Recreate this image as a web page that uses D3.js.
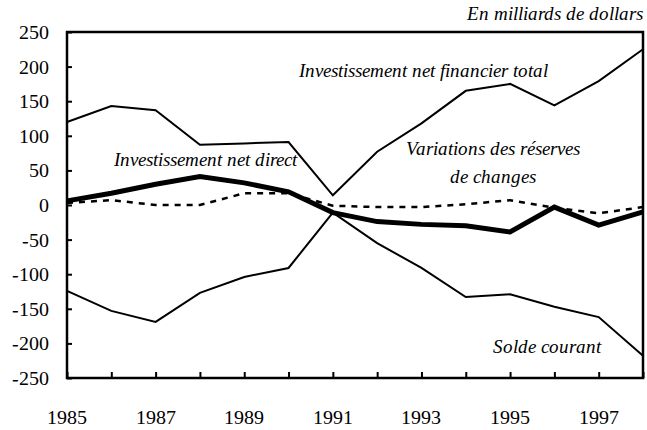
<!DOCTYPE html>
<html>
<head>
<meta charset="utf-8">
<script src="https://cdn.jsdelivr.net/npm/d3@7"></script>
<style>
  @font-face { font-family: "ChartSerif"; font-style: normal; src: local("Liberation Serif"), local("LiberationSerif"), local("LiberationSerif-Regular"); }
  @font-face { font-family: "ChartSerif"; font-style: italic; src: local("Liberation Serif Italic"), local("LiberationSerif-Italic"); }
  body { margin: 0; }
  #chart text { font-family: "ChartSerif", "Liberation Serif", serif; }
</style>
</head>
<body>
<svg id="chart" width="647" height="430"></svg>
<script>
const years = [1985,1986,1987,1988,1989,1990,1991,1992,1993,1994,1995,1996,1997,1998];
const totalFinancier = [120,143,137,87,89,91,14,77,118,165,175,144,179,225];
const soldeCourant = [-124,-153,-169,-127,-104,-91,-11,-55,-91,-133,-129,-147,-162,-218];
const directNet = [6,17,30,41,32,19,-11,-24,-28,-30,-39,-3,-29,-10];
const reserves = [3,7,0,0,17,17,-1,-3,-3,1,7,-4,-12,-3];
const yTicks = [250,200,150,100,50,0,-50,-100,-150,-200,-250];
const xLabelYears = [1985,1987,1989,1991,1993,1995,1997];

const svg = d3.select("#chart");
const m = {left: 67, right: 643, top: 32, bottom: 378};

const x = d3.scaleLinear().domain([1985, 1998]).range([m.left, m.right]);
const y = d3.scaleLinear().domain([-250, 250]).range([m.bottom, m.top]);

// y axis inward ticks
svg.append("g").attr("transform", `translate(${m.left},0)`)
  .call(d3.axisRight(y).tickValues(yTicks).tickSize(5).tickFormat(""))
  .call(g => g.select(".domain").remove())
  .call(g => g.selectAll("line").attr("stroke", "#000").attr("stroke-width", 2));

// x axis inward ticks
svg.append("g").attr("transform", `translate(0,${m.bottom})`)
  .call(d3.axisTop(x).tickValues(years).tickSize(6).tickFormat(""))
  .call(g => g.select(".domain").remove())
  .call(g => g.selectAll("line").attr("stroke", "#000").attr("stroke-width", 2));

// frame
svg.append("rect").attr("x", m.left).attr("y", m.top)
  .attr("width", m.right - m.left).attr("height", m.bottom - m.top)
  .attr("fill", "none").attr("stroke", "#000").attr("stroke-width", 2.5);

const line = d3.line().x((d, i) => x(years[i])).y(d => y(d));

svg.append("path").datum(reserves).attr("d", line)
  .attr("fill", "none").attr("stroke", "#000").attr("stroke-width", 2.5)
  .attr("stroke-dasharray", "6,6");
svg.append("path").datum(totalFinancier).attr("d", line)
  .attr("fill", "none").attr("stroke", "#000").attr("stroke-width", 2);
svg.append("path").datum(soldeCourant).attr("d", line)
  .attr("fill", "none").attr("stroke", "#000").attr("stroke-width", 2);
svg.append("path").datum(directNet).attr("d", line)
  .attr("fill", "none").attr("stroke", "#000").attr("stroke-width", 5);

// tick labels
svg.selectAll("text.ylab").data(yTicks).join("text").attr("class", "ylab")
  .attr("x", 49).attr("y", d => y(d)).attr("dy", "0.35em")
  .attr("text-anchor", "end").attr("font-size", 20)
  .text(d => d);
svg.selectAll("text.xlab").data(xLabelYears).join("text").attr("class", "xlab")
  .attr("x", d => x(d)).attr("y", 424)
  .attr("text-anchor", "middle").attr("font-size", 20)
  .text(d => d);

// annotations
const ann = [
  {t: "En milliards de dollars", x: 643, y: 20, a: "end"},
  {t: "Investissement net financier total", x: 423, y: 77, a: "middle"},
  {t: "Investissement net direct", x: 205, y: 166, a: "middle"},
  {t: "Variations des réserves", x: 493, y: 155, a: "middle"},
  {t: "de changes", x: 493, y: 183, a: "middle"},
  {t: "Solde courant", x: 547, y: 353, a: "middle"}
];
svg.selectAll("text.ann").data(ann).join("text").attr("class", "ann")
  .attr("x", d => d.x).attr("y", d => d.y).attr("text-anchor", d => d.a)
  .attr("font-size", 19).attr("font-style", "italic")
  .text(d => d.t);
</script>
</body>
</html>
